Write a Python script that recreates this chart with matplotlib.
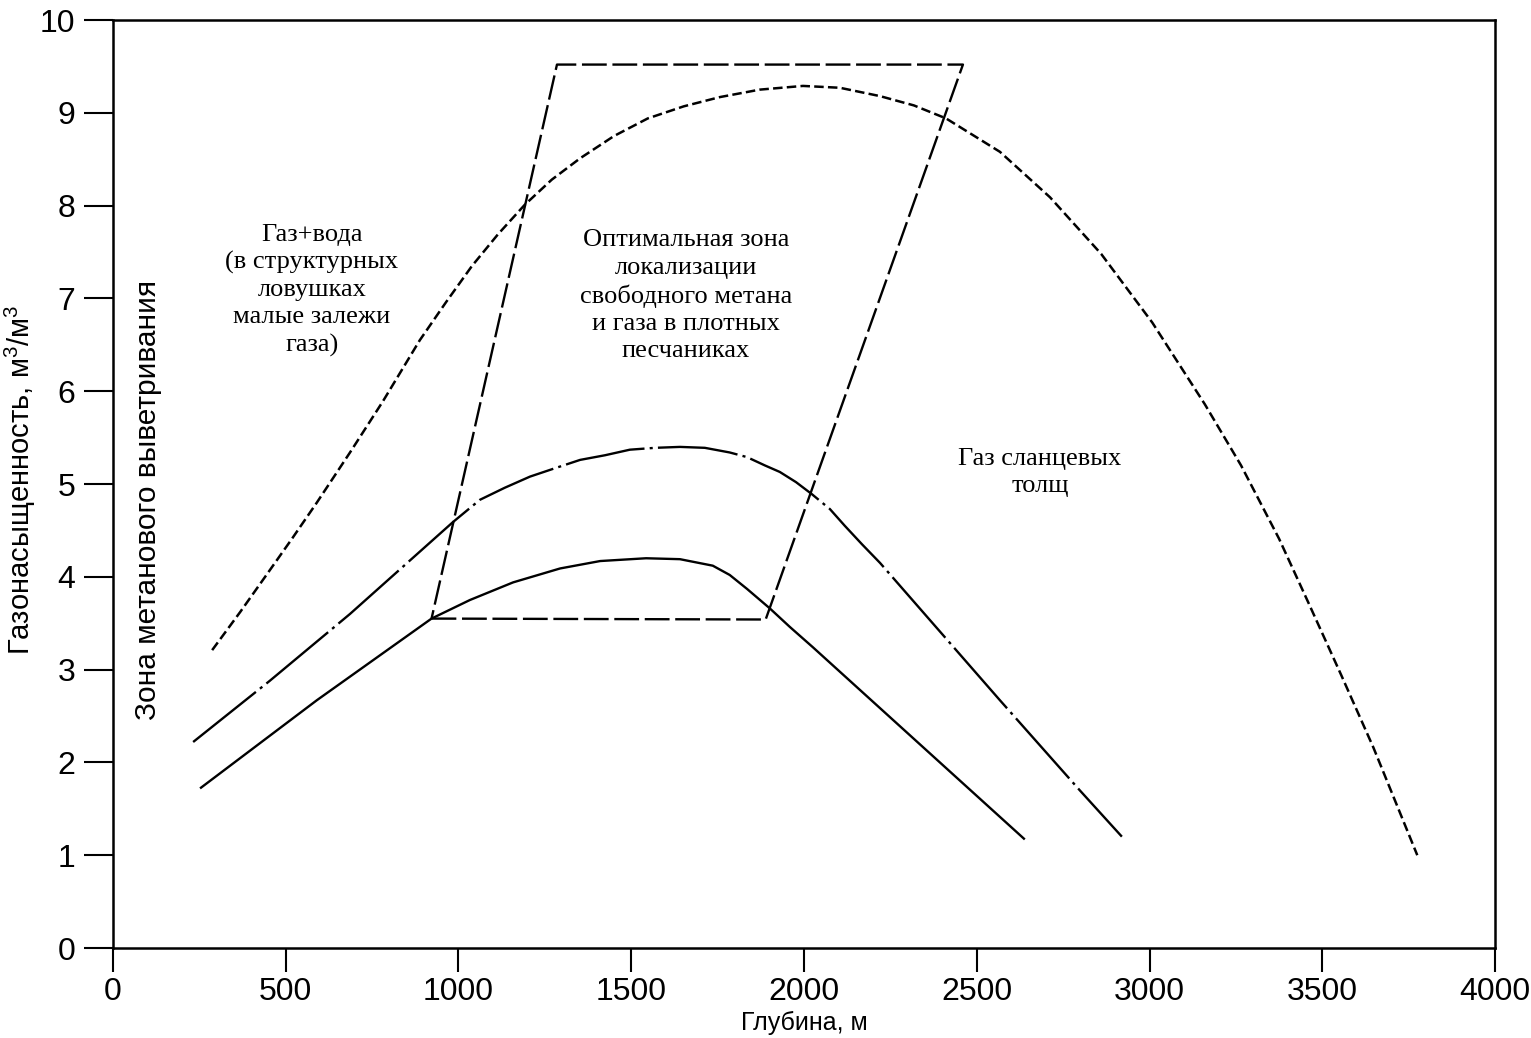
import matplotlib
matplotlib.use("Agg")
import matplotlib.pyplot as plt

plt.rcParams['font.family'] = ['Liberation Sans', 'DejaVu Sans']
plt.rcParams['mathtext.default'] = 'regular'

# ---- data (depth, m ; gas content, m3/m3) ----
solid_x = [252, 590, 922, 1033, 1158, 1294, 1410, 1543, 1641, 1736, 1785, 1835, 1901, 1959, 2026, 2639]
solid_y = [1.72, 2.67, 3.55, 3.75, 3.94, 4.09, 4.17, 4.20, 4.19, 4.12, 4.02, 3.87, 3.66, 3.46, 3.24, 1.17]

dashdot_x = [232, 454, 686, 984, 1062, 1134, 1207, 1279, 1352, 1424, 1496, 1569, 1641, 1713,
             1785, 1835, 1887, 1930, 1977, 2023, 2075, 2118, 2168, 2220, 2567, 2798, 2920]
dashdot_y = [2.22, 2.88, 3.60, 4.59, 4.83, 4.96, 5.08, 5.17, 5.26, 5.31, 5.37, 5.39, 5.40, 5.39,
             5.34, 5.29, 5.20, 5.13, 5.02, 4.89, 4.73, 4.55, 4.35, 4.15, 2.67, 1.70, 1.20]

dashed_x = [287, 368, 446, 518, 590, 686, 781, 888, 964, 1039, 1114, 1192, 1270, 1352, 1450,
            1548, 1652, 1757, 1872, 1997, 2104, 2220, 2318, 2411, 2567, 2712, 2860, 3008,
            3160, 3265, 3375, 3460, 3555, 3648, 3775]
dashed_y = [3.21, 3.62, 4.03, 4.41, 4.80, 5.34, 5.89, 6.55, 6.96, 7.35, 7.69, 8.01, 8.28, 8.51, 8.75,
            8.94, 9.07, 9.17, 9.25, 9.29, 9.27, 9.18, 9.08, 8.94, 8.58, 8.09, 7.48, 6.74,
            5.86, 5.20, 4.41, 3.72, 2.94, 2.16, 1.00]

zone_x = [922, 1889, 2460, 1285, 922]
zone_y = [3.55, 3.54, 9.52, 9.52, 3.55]

x_ticks = [0, 500, 1000, 1500, 2000, 2500, 3000, 3500, 4000]
y_ticks = [0, 1, 2, 3, 4, 5, 6, 7, 8, 9, 10]

x_label = 'Глубина, м'
y_label = 'Газонасыщенность, м$^3$/м$^3$'
side_label = 'Зона метанового выветривания'
label_gas_water = 'Газ+вода\n(в структурных\nловушках\nмалые залежи\nгаза)'
label_optimal = 'Оптимальная зона\nлокализации\nсвободного метана\nи газа в плотных\nпесчаниках'
label_shale = 'Газ сланцевых\nтолщ'

fig = plt.figure(figsize=(15.31, 10.38), dpi=100)
ax = fig.add_axes([0.0738, 0.0867, 0.9027, 0.894])

ax.plot(solid_x, solid_y, color='black', lw=1.7, solid_capstyle='butt')
ax.plot(dashdot_x, dashdot_y, color='black', lw=1.7, linestyle=(0, (34, 2.2, 1.3, 2.2)))
ax.plot(dashed_x, dashed_y, color='black', lw=1.8, linestyle=(0, (3.8, 1.7)))
ax.plot(zone_x, zone_y, color='black', lw=1.7, linestyle=(0, (10.5, 2.4)))

ax.set_xlim(0, 4000)
ax.set_ylim(0, 10)
ax.set_xticks(x_ticks)
ax.set_yticks(y_ticks)
ax.tick_params(axis='x', direction='out', length=17, width=1.5, pad=4, labelsize=23)
ax.tick_params(axis='y', direction='out', length=21, width=1.5, pad=6, labelsize=23)
for s in ax.spines.values():
    s.set_linewidth(1.8)

ax.set_xlabel(x_label, fontsize=18, labelpad=3)
ax.set_ylabel(y_label, fontsize=21)
ax.yaxis.set_label_coords(-0.054, 0.505)

ax.text(101, 4.83, side_label, rotation=90, ha='center', va='center', fontsize=21.5)

serif = ['Liberation Serif', 'DejaVu Serif']
ax.text(576, 7.09, label_gas_water, ha='center', va='center', fontsize=19,
        family=serif, linespacing=1.3)
ax.text(1658, 7.03, label_optimal, ha='center', va='center', fontsize=19,
        family=serif, linespacing=1.3)
ax.text(2683, 5.12, label_shale, ha='center', va='center', fontsize=19,
        family=serif, linespacing=1.3)

fig.savefig('out.png', dpi=100)
